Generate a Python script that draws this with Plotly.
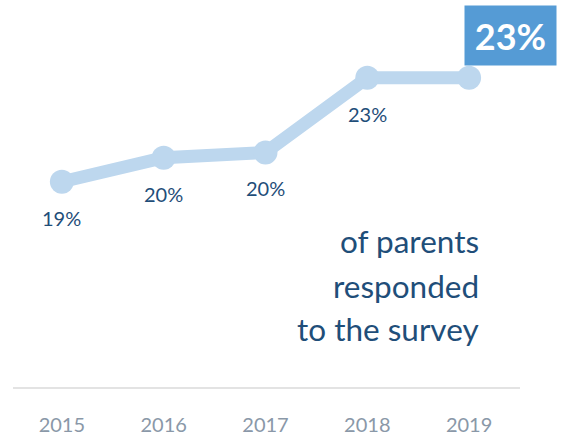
import plotly.graph_objects as go

years = [2015, 2016, 2017, 2018, 2019]
values = [19.3, 20.2, 20.4, 23.2, 23.2]
point_labels = ["19%", "20%", "20%", "23%", ""]
tick_labels = ["2015", "2016", "2017", "2018", "2019"]
headline = "23%"
caption_lines = ["of parents", "responded", "to the survey"]

FONT = "Lato"
DARK = "#1F4E79"
LIGHT = "#BDD7EE"

fig = go.Figure()
fig.add_trace(go.Scatter(
    x=years, y=values, mode="lines+markers",
    line=dict(color=LIGHT, width=13),
    marker=dict(color=LIGHT, size=24),
    hoverinfo="skip", showlegend=False,
))

for x, y, t in zip(years, values, point_labels):
    if t:
        fig.add_annotation(x=x, y=y, text=t, showarrow=False, yshift=-36,
                           yanchor="middle", xanchor="center",
                           font=dict(family=FONT, size=20, color=DARK))

# headline box
fig.add_annotation(xref="paper", yref="paper", x=(557 - 13) / 507, y=(392 - 5) / 392,
                   xanchor="right", yanchor="top", text=f"<b>{headline}</b>",
                   showarrow=False, bgcolor="#559BD5", width=91, height=59,
                   borderpad=0, align="center", valign="middle",
                   font=dict(family=FONT, size=36, color="white"))

for i, (line, yc) in enumerate(zip(caption_lines, [244, 290, 333])):
    fig.add_annotation(xref="paper", yref="paper", x=(481 - 13) / 507, y=(392 - yc) / 392,
                       xanchor="right", yanchor="middle", text=line, showarrow=False,
                       font=dict(family=FONT, size=31.5, color=DARK))

fig.update_layout(
    width=569, height=436,
    margin=dict(l=13, r=49, t=0, b=44),
    paper_bgcolor="white", plot_bgcolor="white",
    xaxis=dict(range=[2014.52, 2019.5], tickvals=years, ticktext=tick_labels,
               showgrid=False, zeroline=False, showline=True, linecolor="#E3E3E3",
               linewidth=2, ticks="", ticklabelstandoff=19,
               tickfont=dict(family=FONT, size=20, color="#8A98A8")),
    yaxis=dict(range=[11.6, 11.6 + 392 / 27], visible=False, showgrid=False),
)

fig.write_html("out.html", config={"displayModeBar": False},
               post_script="document.body.style.margin='0';document.body.style.overflow='hidden';")
